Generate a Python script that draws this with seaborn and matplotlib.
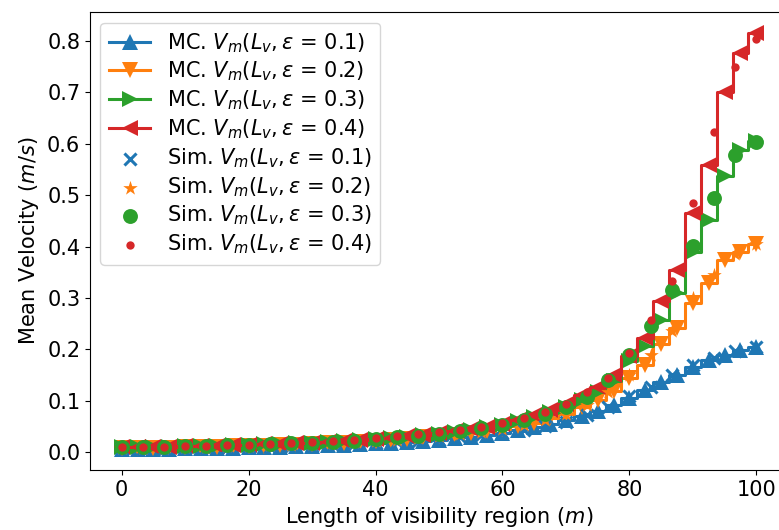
import numpy as np
import pandas as pd
import matplotlib
matplotlib.use("Agg")
import matplotlib.pyplot as plt
import seaborn as sns

# MC curves sampled every 2.5 m, simulation points every 100/30 m
mc_x = np.linspace(0, 100, 41)
sim_x = np.linspace(0, 100, 31)

mc_01 = [0.006, 0.006, 0.007, 0.007, 0.008, 0.008, 0.009, 0.009, 0.010, 0.011,
         0.011, 0.012, 0.013, 0.014, 0.015, 0.016, 0.018, 0.019, 0.021, 0.023,
         0.025, 0.027, 0.030, 0.034, 0.038, 0.043, 0.050, 0.056, 0.063, 0.070,
         0.080, 0.092, 0.105, 0.122, 0.137, 0.150, 0.165, 0.180, 0.190, 0.199,
         0.205]
mc_02 = [0.008, 0.008, 0.009, 0.009, 0.010, 0.010, 0.011, 0.012, 0.013, 0.013,
         0.014, 0.015, 0.016, 0.018, 0.019, 0.021, 0.022, 0.024, 0.026, 0.029,
         0.031, 0.034, 0.038, 0.042, 0.046, 0.052, 0.058, 0.066, 0.075, 0.088,
         0.102, 0.120, 0.145, 0.170, 0.210, 0.242, 0.290, 0.330, 0.373, 0.390,
         0.405]
mc_03 = [0.010, 0.010, 0.011, 0.011, 0.012, 0.012, 0.013, 0.014, 0.015, 0.016,
         0.017, 0.018, 0.019, 0.020, 0.022, 0.024, 0.026, 0.028, 0.030, 0.033,
         0.036, 0.040, 0.044, 0.049, 0.054, 0.061, 0.069, 0.078, 0.089, 0.102,
         0.118, 0.138, 0.178, 0.207, 0.257, 0.310, 0.389, 0.451, 0.537, 0.587,
         0.605]
mc_04 = [0.010, 0.010, 0.011, 0.011, 0.012, 0.012, 0.013, 0.014, 0.015, 0.016,
         0.017, 0.018, 0.019, 0.021, 0.022, 0.024, 0.026, 0.028, 0.031, 0.034,
         0.037, 0.041, 0.045, 0.050, 0.056, 0.063, 0.072, 0.082, 0.094, 0.112,
         0.128, 0.150, 0.188, 0.222, 0.294, 0.354, 0.465, 0.558, 0.700, 0.776,
         0.815]

sim_01 = [0.006, 0.007, 0.007, 0.008, 0.009, 0.009, 0.010, 0.011, 0.012, 0.013,
          0.014, 0.016, 0.018, 0.020, 0.022, 0.025, 0.029, 0.033, 0.038, 0.044,
          0.051, 0.060, 0.072, 0.088, 0.110, 0.127, 0.150, 0.170, 0.184, 0.197,
          0.205]
sim_02 = [0.008, 0.009, 0.009, 0.010, 0.011, 0.012, 0.013, 0.014, 0.015, 0.016,
          0.018, 0.020, 0.022, 0.024, 0.027, 0.031, 0.035, 0.040, 0.046, 0.053,
          0.062, 0.075, 0.092, 0.118, 0.150, 0.190, 0.235, 0.300, 0.345, 0.385,
          0.405]
sim_03 = [0.010, 0.010, 0.011, 0.012, 0.013, 0.014, 0.015, 0.016, 0.018, 0.019,
          0.021, 0.023, 0.026, 0.029, 0.032, 0.036, 0.041, 0.047, 0.054, 0.063,
          0.074, 0.088, 0.108, 0.140, 0.190, 0.245, 0.315, 0.402, 0.494, 0.577,
          0.603]
sim_04 = [0.010, 0.011, 0.011, 0.012, 0.013, 0.014, 0.015, 0.017, 0.018, 0.020,
          0.022, 0.025, 0.028, 0.031, 0.035, 0.039, 0.044, 0.050, 0.057, 0.066,
          0.078, 0.094, 0.118, 0.145, 0.194, 0.257, 0.333, 0.485, 0.623, 0.749,
          0.803]

eps = ["0.1", "0.2", "0.3", "0.4"]
colors = ["#1f77b4", "#ff7f0e", "#2ca02c", "#d62728"]
mc_markers = ["^", "v", ">", "<"]
sim_markers = ["x", "*", "o", "o"]
sim_sizes = [75, 120, 115, 36]

plt.rcParams.update({"font.size": 15, "font.family": "DejaVu Sans"})

fig, ax = plt.subplots(figsize=(7.79, 5.30), dpi=100)
fig.subplots_adjust(left=0.1155, right=1.0116, top=0.977, bottom=0.113)

# MC results drawn as stepped lines
for e, ys, c, m in zip(eps, [mc_01, mc_02, mc_03, mc_04], colors, mc_markers):
    df = pd.DataFrame({"L": mc_x, "V": ys})
    sns.lineplot(data=df, x="L", y="V", ax=ax, color=c, marker=m,
                 markersize=11, markeredgewidth=0, linewidth=2.2,
                 drawstyle="steps-mid",
                 label=r"MC. $V_m(L_v, \varepsilon$ = " + e + ")")

# simulation points
for e, ys, c, m, s in zip(eps, [sim_01, sim_02, sim_03, sim_04], colors,
                          sim_markers, sim_sizes):
    df = pd.DataFrame({"L": sim_x, "V": ys})
    lw = 2.2 if m == "x" else 0
    sns.scatterplot(data=df, x="L", y="V", ax=ax, color=c, marker=m, s=s,
                    linewidth=lw, zorder=3,
                    label=r"Sim. $V_m(L_v, \varepsilon$ = " + e + ")")

ax.set_xlabel(r"Length of visibility region ($m$)")
ax.set_ylabel(r"Mean Velocity ($m/s$)")
ax.set_xticks([0, 20, 40, 60, 80, 100])
ax.set_yticks([0.0, 0.1, 0.2, 0.3, 0.4, 0.5, 0.6, 0.7, 0.8])
ax.legend(loc="upper left", fontsize=15, labelspacing=0.25)

fig.savefig("out.png", dpi=100)
